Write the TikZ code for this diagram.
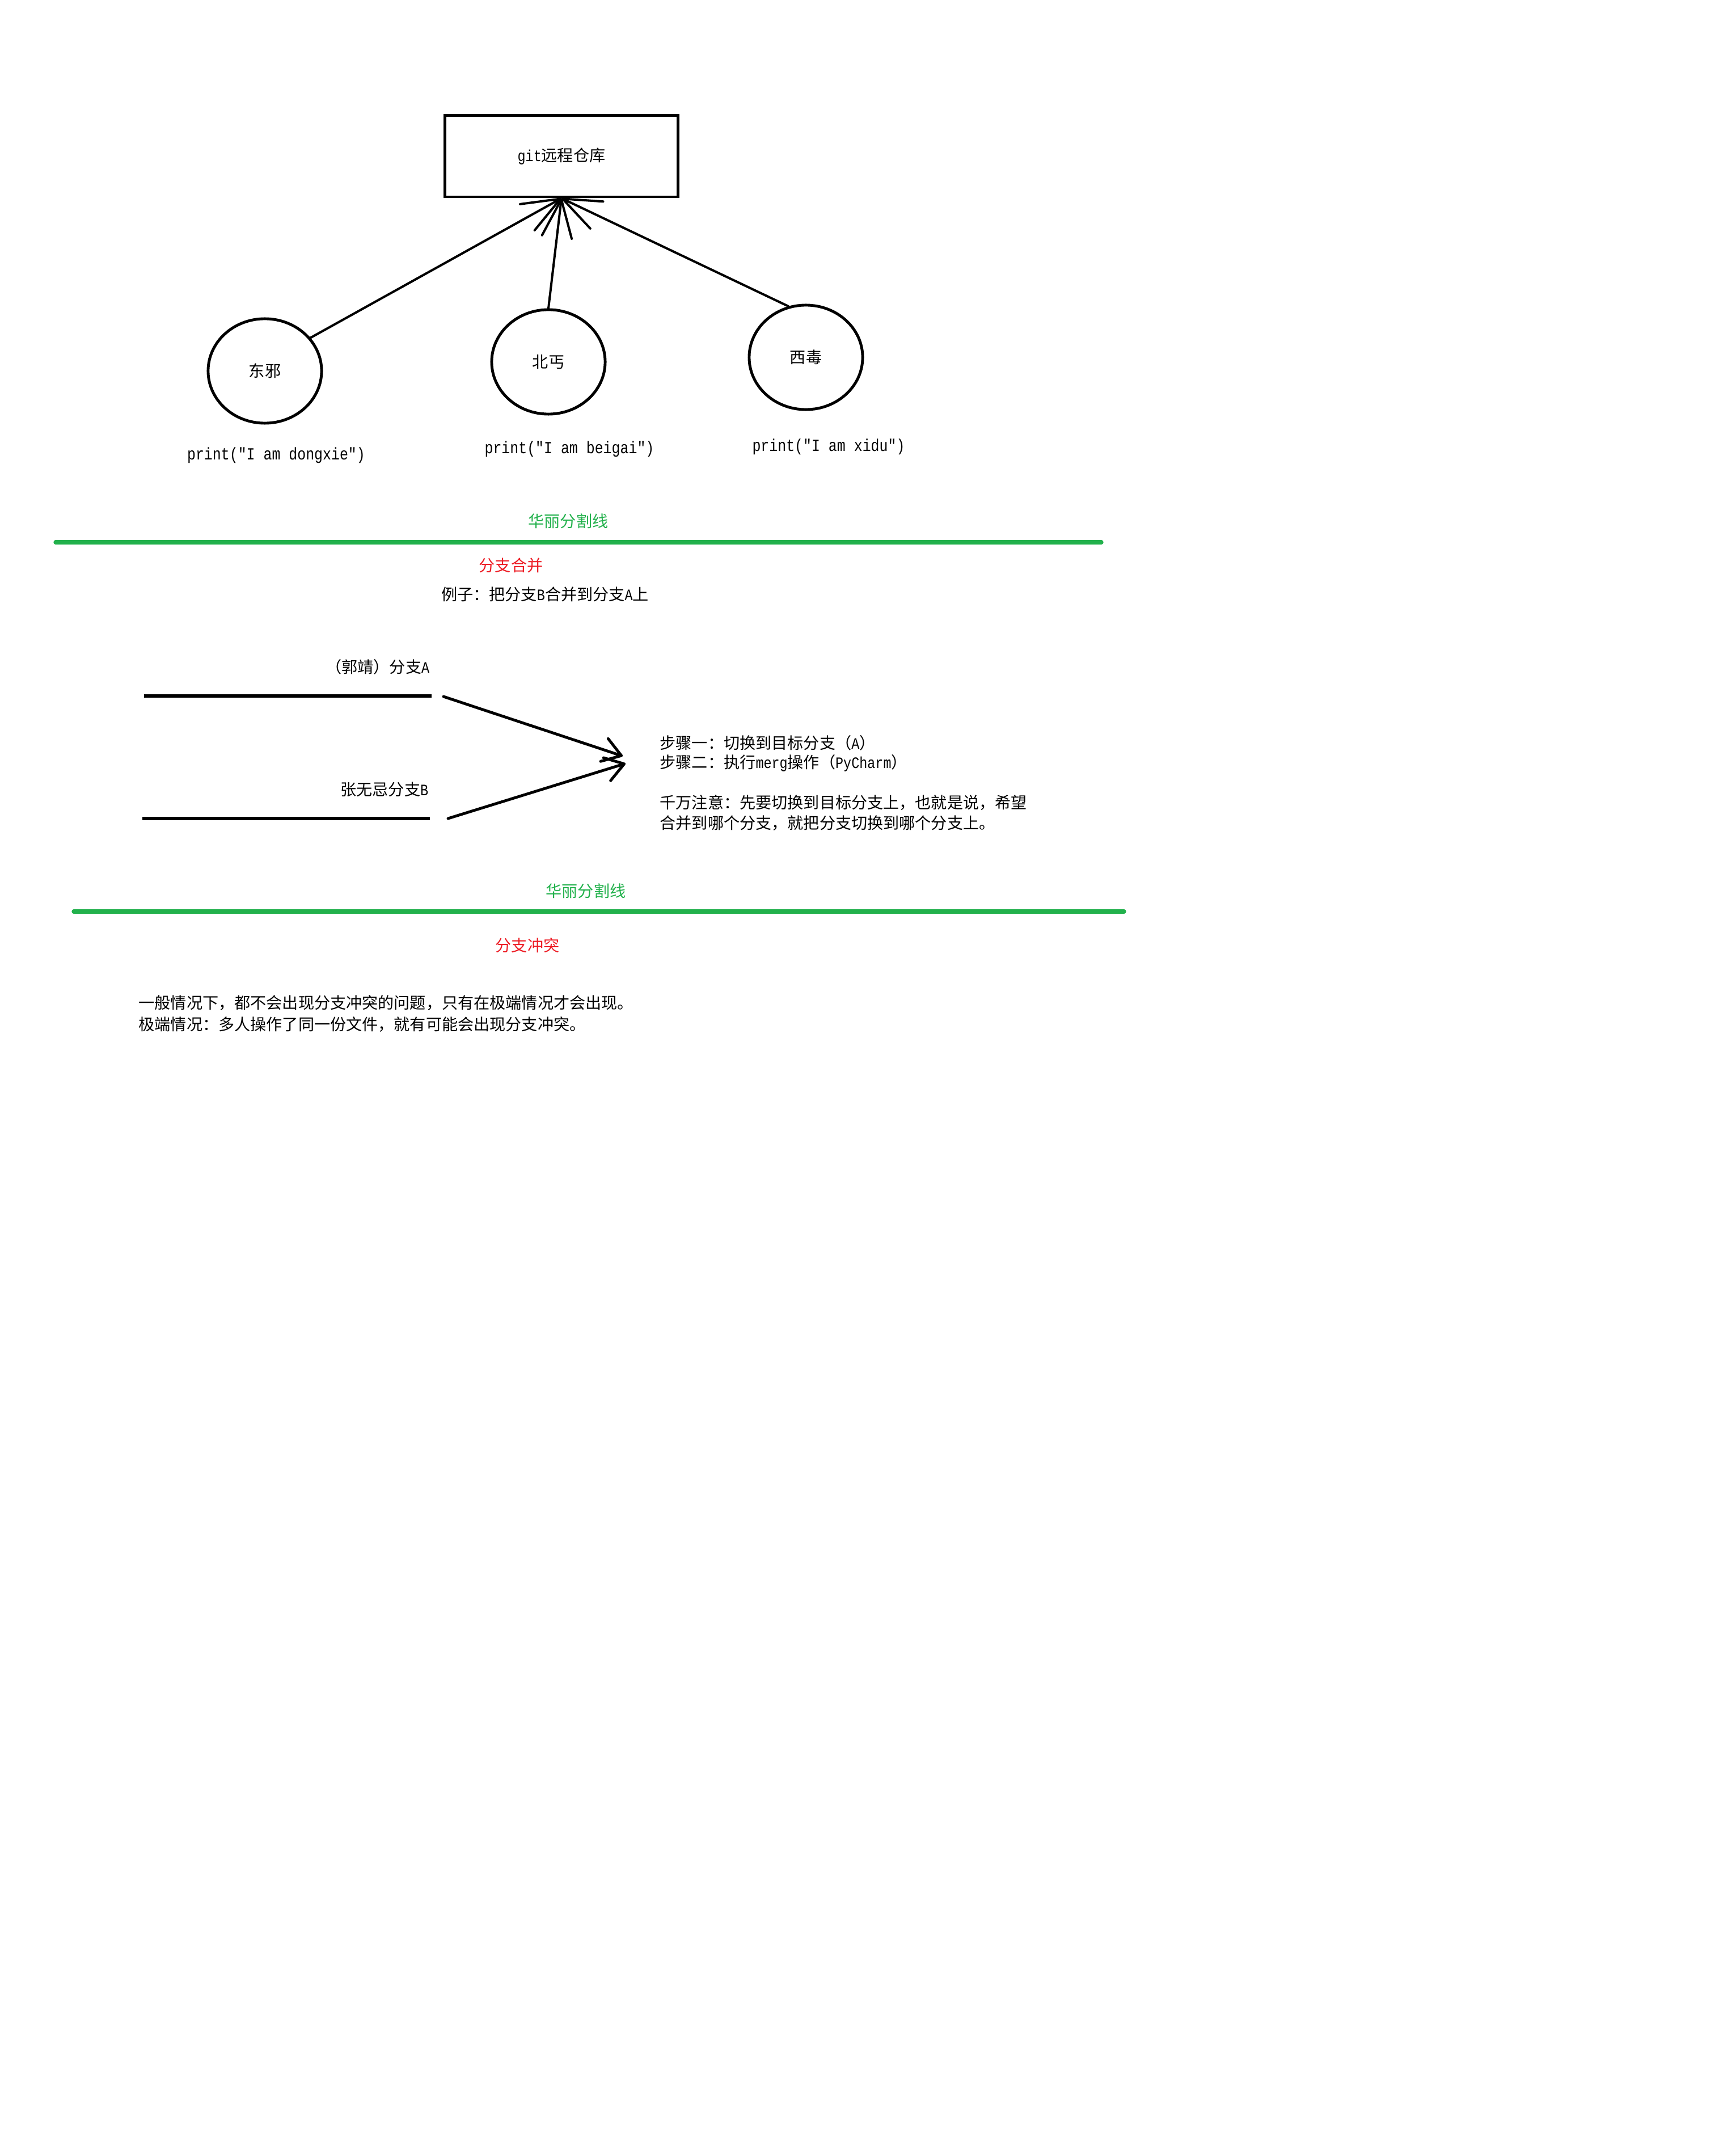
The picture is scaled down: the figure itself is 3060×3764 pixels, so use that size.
\documentclass[tikz,border=0pt]{standalone}
\usepackage{fontspec}
\setmainfont{Noto Sans CJK SC}
\newfontfamily\lat{Liberation Mono}[FakeStretch=0.833]
\usetikzlibrary{arrows.meta,shapes.geometric}
\definecolor{paintgreen}{HTML}{22B14C}
\definecolor{paintred}{HTML}{ED1C24}
\begin{document}
\begin{tikzpicture}[x=0.01cm,y=-0.01cm,
  txt/.style={inner sep=0pt, font=\fontsize{8pt}{10pt}\selectfont},
  codetxt/.style={inner sep=0pt, font=\fontsize{8.5pt}{10pt}\selectfont\lat},
  repobox/.style={draw, line width=1.4pt, rectangle, minimum width=4.11cm, minimum height=1.43cm, inner sep=0pt, font=\fontsize{8pt}{10pt}\selectfont},
  person/.style={draw, ellipse, line width=1.4pt, minimum width=2cm, minimum height=1.84cm, inner sep=0pt, font=\fontsize{8pt}{10pt}\selectfont},
  toparrow/.style={line width=1.15pt, line cap=round, -{Straight Barb[length=19pt,width=15pt,round]}},
  mergearrow/.style={line width=1.4pt, line cap=round, -{Straight Barb[length=9pt,width=12pt,round]}},
  branchline/.style={line width=1.5pt},
  sepline/.style={line width=2.1pt, line cap=round, draw=paintgreen}
]
\fill[white] (0,0) rectangle (3060,3764);
\useasboundingbox (0,0) rectangle (3060,3764);

% top part
\node[repobox] (repo) at (990,275.5) {{\lat git}远程仓库};
\node[person] (dongxie) at (467,654) {东邪};
\node[person] (beigai) at (967,638) {北丐};
\node[person] (xidu) at (1421,630) {西毒};
\draw[toparrow] (dongxie.36) -- (repo.south);
\draw[toparrow] (beigai.north) -- (repo.south);
\draw[toparrow] (xidu.109) -- (repo.south);

\node[codetxt] (pd) at (487,803) {print("I am dongxie")};
\node[codetxt] (pb) at (1004,792) {print("I am beigai")};
\node[codetxt] (px) at (1461,788) {print("I am xidu")};

% separator 1
\node[txt, text=paintgreen] (sep1) at (1002,919) {华丽分割线};
\coordinate (s1a) at (98,956);
\coordinate (s1b) at (1942,956);
\draw[sepline] (s1a) -- (s1b);

% merge section
\node[txt, text=paintred] (hmerge) at (901,997) {分支合并};
\node[txt] (example) at (961,1048) {例子：把分支{\lat B}合并到分支{\lat A}上};

\node[txt, anchor=east] (lblA) at (758,1176) {（郭靖）分支{\lat A}};
\node[txt, anchor=east] (lblB) at (756,1392) {张无忌分支{\lat B}};
\coordinate (a0) at (254,1227);
\coordinate (a1) at (761,1227);
\coordinate (b0) at (251,1443);
\coordinate (b1) at (758,1443);
\draw[branchline] (a0) -- (a1);
\draw[branchline] (b0) -- (b1);
\coordinate (ma) at (782,1228);
\coordinate (ta) at (1098,1333);
\coordinate (mb) at (790,1443);
\coordinate (tb) at (1103,1346);
\draw[mergearrow] (ma) -- (ta);
\draw[mergearrow] (mb) -- (tb);

\node[txt, anchor=west] (step1) at (1163,1310) {步骤一：切换到目标分支（{\lat A}）};
\node[txt, anchor=west] (step2) at (1163,1345) {步骤二：执行{\lat merg}操作（{\lat PyCharm}）};
\node[txt, anchor=west] (note1) at (1163,1415) {千万注意：先要切换到目标分支上，也就是说，希望};
\node[txt, anchor=west] (note2) at (1163,1451) {合并到哪个分支，就把分支切换到哪个分支上。};

% separator 2
\node[txt, text=paintgreen] (sep2) at (1033,1571) {华丽分割线};
\coordinate (s2a) at (130,1607);
\coordinate (s2b) at (1982,1607);
\draw[sepline] (s2a) -- (s2b);

% conflict section
\node[txt, text=paintred] (hconflict) at (930,1667) {分支冲突};
\node[txt, anchor=west] (c1) at (244,1768) {一般情况下，都不会出现分支冲突的问题，只有在极端情况才会出现。};
\node[txt, anchor=west] (c2) at (244,1806) {极端情况：多人操作了同一份文件，就有可能会出现分支冲突。};
\end{tikzpicture}
\end{document}
